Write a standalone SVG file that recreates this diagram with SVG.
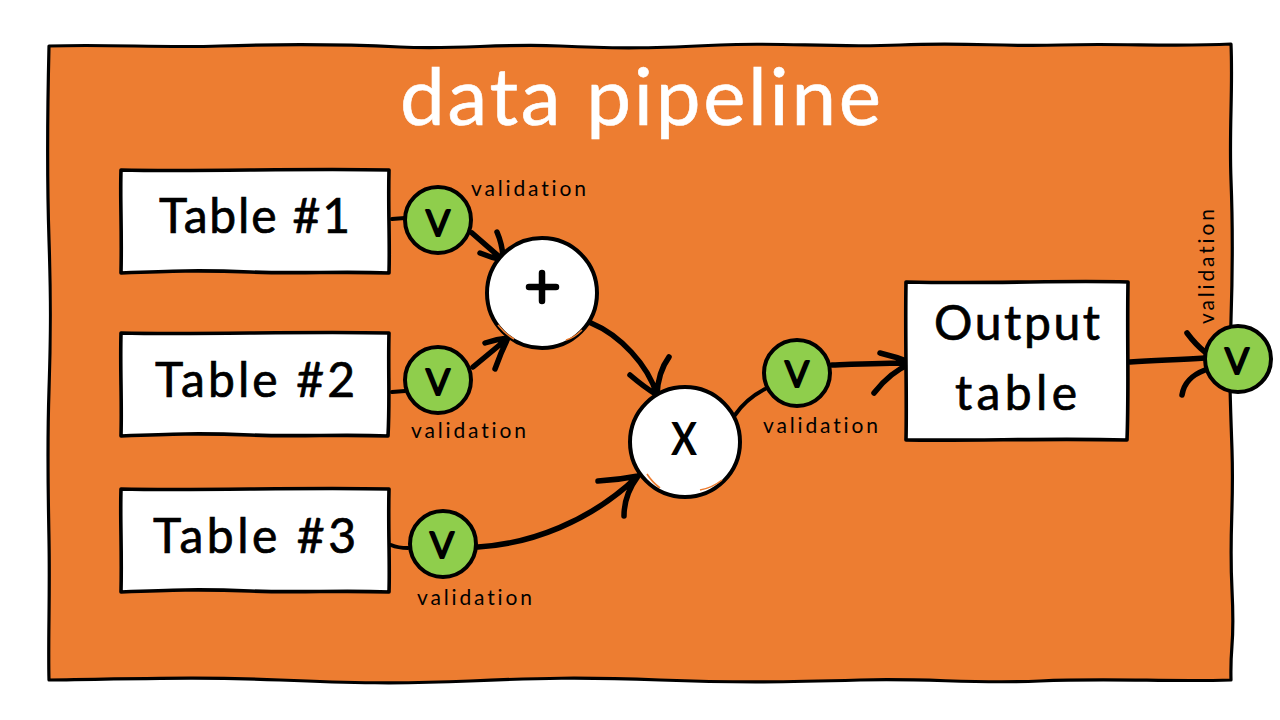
<svg xmlns="http://www.w3.org/2000/svg" width="1280" height="720" viewBox="0 0 1280 720">
<style>
text{font-family:"Lato","Open Sans",sans-serif;fill:#000;font-variant-ligatures:none}
.box{fill:#fff;stroke:#000;stroke-width:3.6;stroke-linejoin:round}
.wh{fill:#fff;stroke:#000;stroke-width:4}
.gr{fill:#8fce4c;stroke:#000;stroke-width:4}
.big{font-size:48px;stroke:#000;stroke-width:.7}
.v{font-size:36px;text-anchor:middle;stroke:#000;stroke-width:1.8;stroke-linejoin:round}
.val{font-size:21px}
.line{fill:none;stroke:#000;stroke-width:5.5;stroke-linecap:round;stroke-linejoin:round}
.thin{fill:none;stroke:#000;stroke-width:4;stroke-linecap:round}
.sliver{fill:none;stroke:#ed7d31;stroke-width:1.6}
</style>
<rect width="1280" height="720" fill="#fff"/>
<g id="frame"><path d="M49 46C110 44 160 48 220 46S340 44 400 47S500 43 560 46S660 48 720 45S830 48 900 45S1000 47 1060 45S1170 47 1231 44C1233 90 1229 130 1231 180S1233 260 1231 320S1230 390 1232 450S1229 530 1232 590S1230 640 1231 680C1170 682 1110 678 1040 681S930 678 860 680S740 683 660 680S540 678 470 681S350 683 280 680S170 678 49 680C48 640 50 600 49 540S47 450 49 390S51 300 49 240S47 130 49 46Z" fill="#ed7d31" stroke="#000" stroke-width="3.2" stroke-linejoin="round"/>
<text x="400" y="125" font-size="80" style="fill:#fff;stroke:#fff;stroke-width:.6" textLength="481" lengthAdjust="spacing">data pipeline</text></g>
<g id="connectors">
<path class="thin" d="M392 219L405 218M392 392L405 391M391 545Q398 548 408 548M735 415Q746 399 765 389"/>
<path class="line" d="M472 233L503 260M497 232Q503 246 503 260Q492 258 480 253"/>
<path class="line" d="M473 367L508 338M485 343Q497 339 508 338Q501 352 495 369"/>
<path class="line" d="M478 547C530 544 590 522 638 476M598 481Q618 480 638 476Q624 495 624 516"/>
<path class="line" d="M591 323C620 335 648 365 657 395M630 375Q644 387 657 395Q658 372 669 357"/>
<path class="line" d="M832 365C860 364 885 363 912 363M880 353Q897 357 912 363Q890 372 874 393"/>
<path class="line" d="M1130 362C1160 360 1180 360 1205 358M1187 333Q1196 345 1205 352M1182 395C1184 382 1192 375 1205 370"/>
</g>
<g id="table1"><path class="box" d="M121 170C200 172 300 168 389 170C388 210 390 240 389 273C340 271 300 274 250 272S170 271 121 273C122 230 120 200 121 170Z"/><text class="big" x="159" y="233" textLength="191" lengthAdjust="spacing">Table #1</text></g>
<g id="table2"><path class="box" d="M121 333C200 335 300 331 389 333C388 370 390 400 388 436C340 434 300 437 250 435S170 434 121 436C122 400 120 370 121 333Z"/><text class="big" x="155" y="397" textLength="200" lengthAdjust="spacing">Table #2</text></g>
<g id="table3"><path class="box" d="M121 489C200 491 300 487 389 489C388 530 390 560 389 592C340 590 300 593 250 591S170 590 121 592C122 550 120 520 121 489Z"/><text class="big" x="153" y="553" textLength="203" lengthAdjust="spacing">Table #3</text></g>
<g id="output"><path class="box" d="M906 282C1000 284 1060 280 1128 282C1127 340 1129 390 1127 440C1050 438 980 441 906 440C907 390 905 340 906 282Z"/><text class="big" x="934" y="340" textLength="166" lengthAdjust="spacing">Output</text><text class="big" x="955" y="410" textLength="122" lengthAdjust="spacing">table</text></g>
<g id="plus"><circle class="wh" cx="542" cy="293" r="55"/><path class="sliver" d="M498 325Q505 334 514 339M566 340Q574 338 582 330"/><path d="M529 287H556M542 273V301" fill="none" stroke="#000" stroke-width="6.5" stroke-linecap="round"/></g>
<g id="times"><circle class="wh" cx="685" cy="442" r="55"/><path class="sliver" d="M647 474Q652 482 660 488M700 490Q712 488 722 480"/><text x="684" y="455" font-size="46" font-weight="700" text-anchor="middle" textLength="26" lengthAdjust="spacingAndGlyphs">X</text></g>
<g id="v1"><circle class="gr" cx="438" cy="220" r="33"/><text class="v" x="438" y="236">V</text></g>
<g id="v2"><circle class="gr" cx="438" cy="380" r="33"/><text class="v" x="438" y="395">V</text></g>
<g id="v3"><circle class="gr" cx="443" cy="544" r="33"/><text class="v" x="442" y="558">V</text></g>
<g id="v4"><circle class="gr" cx="797" cy="373" r="33"/><text class="v" x="797" y="387">V</text></g>
<g id="v5"><circle class="gr" cx="1238" cy="359" r="33"/><text class="v" x="1237" y="374">V</text></g>
<g id="labels">
<text class="val" x="471" y="196" textLength="115" lengthAdjust="spacing">validation</text>
<text class="val" x="411" y="438" textLength="115" lengthAdjust="spacing">validation</text>
<text class="val" x="417" y="605" textLength="115" lengthAdjust="spacing">validation</text>
<text class="val" x="763" y="433" textLength="115" lengthAdjust="spacing">validation</text>
<text class="val" transform="translate(1214 324) rotate(-90)" textLength="115" lengthAdjust="spacing">validation</text>
</g>
</svg>
